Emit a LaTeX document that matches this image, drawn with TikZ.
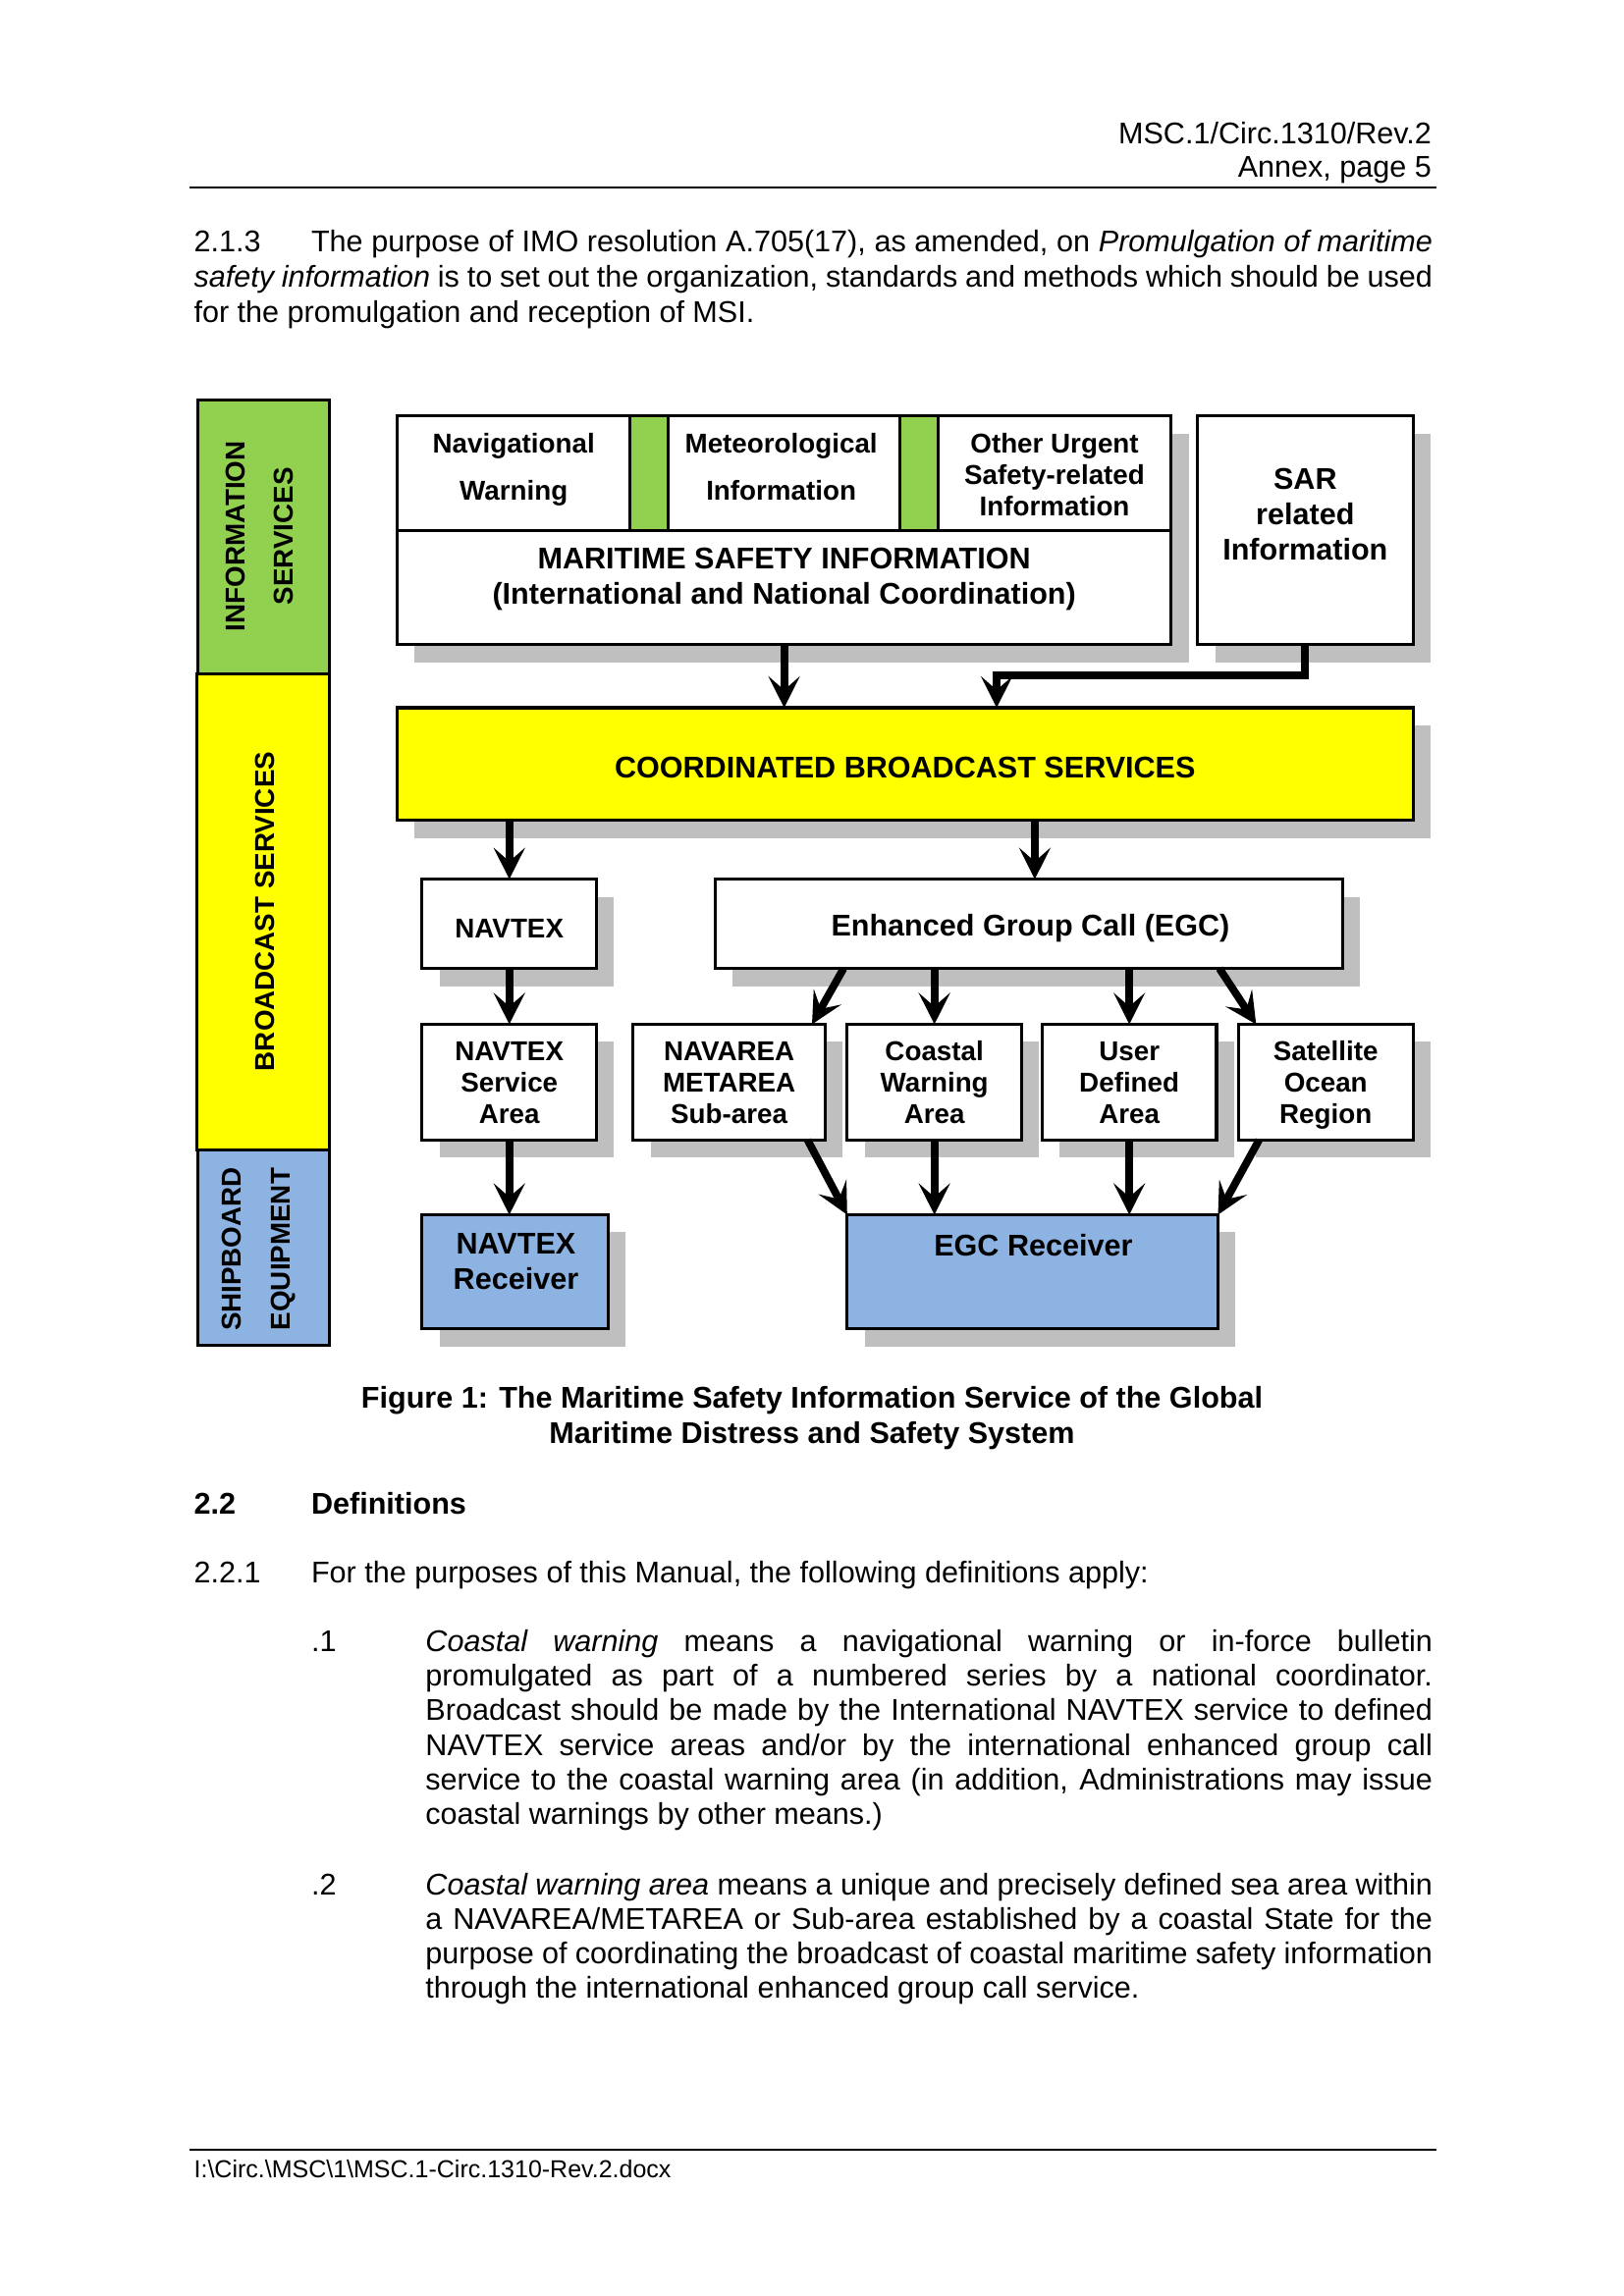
\documentclass[tikz,border=0pt]{standalone}
\usepackage{fontspec}
\setmainfont{Liberation Sans}
\usetikzlibrary{arrows.meta,calc}
\pgfdeclarelayer{background}
\pgfsetlayers{background,main}
\definecolor{igreen}{HTML}{92D050}
\definecolor{iyellow}{HTML}{FFFF00}
\definecolor{iblue}{HTML}{8DB3E2}
\definecolor{ishadow}{HTML}{BFBFBF}
\def\uu{0.53727pt}
\newcommand\felev{\fontsize{11}{13}\selectfont}
\newcommand\felevb{\fontsize{11}{13}\selectfont\bfseries}
\newcommand\ftenb{\fontsize{10}{12}\selectfont\bfseries}
\newcommand\ftenbL{\fontsize{10}{17.7}\selectfont\bfseries}
\newcommand\fnine{\fontsize{9}{11}\selectfont}
\tikzset{
  bx/.style={draw=black, line width=1.1pt, fill=white, inner sep=0pt, outer sep=0pt, anchor=north west},
  flow/.style={line width=2.8pt, -{Stealth[length=11.5pt,width=11.5pt,inset=5pt]}},
  lbl/.style={anchor=base, inner sep=0pt},
  lw/.style={anchor=base west, inner sep=0pt, font=\felev},
  rulel/.style={line width=0.7pt},
  bartxt/.style={rotate=90, align=center, inner sep=0pt, font=\ftenbL},
}
\newcommand\mybox[6]{%
  \node[bx,#1,minimum width={(#5-#3)*\uu},minimum height={(#6-#4)*\uu}] (#2) at (#3,#4) {};
  \begin{pgfonlayer}{background}
  \fill[ishadow] ($(#2.north west)+(12,12)$) rectangle ($(#2.south east)+(12,12)$);
  \end{pgfonlayer}}
\newcommand\lines[6]{\foreach \l [count=\i] in {#6}{\node[lbl,font=#5] (#1-\i) at (#2,{#3+(\i-1)*#4}) {\l};}}
\begin{document}
\begin{tikzpicture}[x=\uu,y=-\uu]
\begin{pgfonlayer}{background}
\fill[white] (0,0) rectangle (1108,1566.9);
\end{pgfonlayer}
\useasboundingbox (0,0) rectangle (1108,1566.9);

% ---------- header ----------
\node[anchor=base east, inner sep=0pt, font=\felev] (h1) at (977,98) {MSC.1/Circ.1310/Rev.2};
\node[anchor=base east, inner sep=0pt, font=\felev] (h2) at (977,121) {Annex, page 5};
\coordinate (hrl) at (129,128); \coordinate (hrr) at (980,128);
\draw[rulel] (hrl) -- (hrr);

% ---------- paragraph 2.1.3 ----------
\node[lw] (pa0) at (132,172) {2.1.3};
\node[lw] (pa1) at (212,172) {\makebox[411pt][s]{The purpose of IMO resolution A.705(17), as amended, on \textit{Promulgation of maritime}}};
\node[lw] (pa2) at (132,196) {\makebox[454pt][s]{\textit{safety information} is to set out the organization, standards and methods which should be used}};
\node[lw] (pa3) at (132,220) {for the promulgation and reception of MSI.};

% ---------- left bars ----------
\node[bx, fill=igreen, minimum width={90*\uu}, minimum height={187*\uu}] (barI) at (135,273) {};
\node[bx, fill=iyellow, minimum width={91*\uu}, minimum height={325*\uu}] (barB) at (134,460) {};
\node[bx, fill=iblue, minimum width={90*\uu}, minimum height={133*\uu}] (barS) at (135,785) {};
\node[bartxt] (tI) at (177,366) {INFORMATION\\SERVICES};
\node[bartxt] (tB) at (181,622) {BROADCAST SERVICES};
\node[bartxt] (tS) at (176.5,852.5) {SHIPBOARD\\EQUIPMENT};

% ---------- top group ----------
\mybox{}{navw}{271}{284}{430}{362}
\mybox{fill=igreen}{grn1}{430}{284}{456}{362}
\mybox{}{met}{456}{284}{614}{362}
\mybox{fill=igreen}{grn2}{614}{284}{640}{362}
\mybox{}{oth}{640}{284}{799}{362}
\mybox{}{msi}{271}{362}{799}{440}
\mybox{}{sar}{817}{284}{964}{440}
\lines{tnav}{350.5}{309}{32}{\ftenb}{Navigational,Warning}
\lines{tmet}{533}{309}{32}{\ftenb}{Meteorological,Information}
\lines{toth}{719.5}{309}{21.5}{\ftenb}{Other Urgent,Safety-related,Information}
\lines{tmsi}{535}{388}{24}{\felevb}{MARITIME SAFETY INFORMATION,{(International and National Coordination)}}
\lines{tsar}{890.5}{334}{24}{\felevb}{SAR,related,Information}

% ---------- broadcast ----------
\mybox{fill=iyellow}{cbs}{271}{483}{964}{560}
\lines{tcbs}{617.5}{531}{24}{\felevb}{COORDINATED BROADCAST SERVICES}
\mybox{}{navtex}{288}{600}{407}{661}
\mybox{}{egc}{488}{600}{916}{661}
\lines{tnavtex}{347.5}{640}{24}{\ftenb}{NAVTEX}
\lines{tegc}{703}{639}{24}{\felevb}{{Enhanced Group Call (EGC)}}

\mybox{}{nsa}{288}{699}{407}{778}
\mybox{}{nava}{432}{699}{563}{778}
\mybox{}{coast}{578}{699}{697}{778}
\mybox{}{user}{711}{699}{830}{778}
\mybox{}{sat}{845}{699}{964}{778}
\lines{tnsa}{347.5}{724}{21.3}{\ftenb}{NAVTEX,Service,Area}
\lines{tnava}{497.5}{724}{21.3}{\ftenb}{NAVAREA,METAREA,Sub-area}
\lines{tcoast}{637.5}{724}{21.3}{\ftenb}{Coastal,Warning,Area}
\lines{tuser}{770.5}{724}{21.3}{\ftenb}{User,Defined,Area}
\lines{tsat}{904.5}{724}{21.3}{\ftenb}{Satellite,Ocean,Region}

% ---------- receivers ----------
\mybox{fill=iblue}{nrec}{288}{829}{415}{907}
\mybox{fill=iblue}{egcr}{578}{829}{831}{907}
\lines{tnrec}{352}{856}{24}{\felevb}{NAVTEX,Receiver}
\lines{tegcr}{705}{857}{24}{\felevb}{EGC Receiver}

% ---------- connectors ----------
\draw[flow] (msi.south) -- (msi.south |- cbs.north);
\coordinate (cbsin) at ($(cbs.north west)+(409,0)$);
\draw[flow] (sar.south) |- ($(cbsin)+(0,-22)$) -- (cbsin);
\draw[flow] (cbs.south -| navtex.north) -- (navtex.north);
\coordinate (egcin) at ($(egc.north)+(4,0)$);
\draw[flow] (cbs.south -| egcin) -- (egcin);
\draw[flow] (navtex.south) -- (navtex.south |- nsa.north);
\coordinate (e1) at ($(egc.south west)+(87.5,0)$);
\coordinate (n1) at ($(nava.north east)+(-9,0)$);
\draw[flow] (e1) -- (n1);
\draw[flow] (egc.south -| coast.north) -- (coast.north);
\draw[flow] (egc.south -| user.north) -- (user.north);
\coordinate (e4) at ($(egc.south east)+(-84,0)$);
\coordinate (s1) at ($(sat.north west)+(12,0)$);
\draw[flow] (e4) -- (s1);
\draw[flow] (nsa.south) -- (nsa.south |- nrec.north);
\coordinate (n2) at ($(nava.south east)+(-12,0)$);
\draw[flow] (n2) -- (egcr.north west);
\draw[flow] (coast.south) -- (coast.south |- egcr.north);
\draw[flow] (user.south) -- (user.south |- egcr.north);
\coordinate (s2) at ($(sat.south west)+(14,0)$);
\draw[flow] (s2) -- (egcr.north east);

% ---------- caption ----------
\node[lbl, font=\felevb] (cap1) at (554,961) {Figure 1: The Maritime Safety Information Service of the Global};
\node[lbl, font=\felevb] (cap2) at (554,985) {Maritime Distress and Safety System};

% ---------- definitions ----------
\node[lw, font=\felevb] (d0n) at (132,1033) {2.2};
\node[lw, font=\felevb] (d0t) at (212,1033) {Definitions};
\node[lw] (d1n) at (132,1080) {2.2.1};
\node[lw] (d1t) at (212,1080) {For the purposes of this Manual, the following definitions apply:};

\node[lw] (q1n) at (212,1127) {.1};
\node[lw] (q1a) at (290,1127) {\makebox[369.1pt][s]{\textit{Coastal warning} means a navigational warning or in-force bulletin}};
\node[lw] (q1b) at (290,1150.6) {\makebox[369.1pt][s]{promulgated as part of a numbered series by a national coordinator.}};
\node[lw] (q1c) at (290,1174.2) {\makebox[369.1pt][s]{Broadcast should be made by the International NAVTEX service to defined}};
\node[lw] (q1d) at (290,1197.8) {\makebox[369.1pt][s]{NAVTEX service areas and/or by the international enhanced group call}};
\node[lw] (q1e) at (290,1221.4) {\makebox[369.1pt][s]{service to the coastal warning area (in addition, Administrations may issue}};
\node[lw] (q1f) at (290,1245) {coastal warnings by other means.)};

\node[lw] (q2n) at (212,1293) {.2};
\node[lw] (q2a) at (290,1293) {\makebox[369.1pt][s]{\textit{Coastal warning area} means a unique and precisely defined sea area within}};
\node[lw] (q2b) at (290,1316.6) {\makebox[369.1pt][s]{a NAVAREA/METAREA or Sub-area established by a coastal State for the}};
\node[lw] (q2c) at (290,1340.2) {\makebox[369.1pt][s]{purpose of coordinating the broadcast of coastal maritime safety information}};
\node[lw] (q2d) at (290,1363.8) {through the international enhanced group call service.};

% ---------- footer ----------
\coordinate (frl) at (129,1467); \coordinate (frr) at (980,1467);
\draw[rulel] (frl) -- (frr);
\node[lw, font=\fnine] (foot) at (132,1486) {I:\textbackslash Circ.\textbackslash MSC\textbackslash 1\textbackslash MSC.1-Circ.1310-Rev.2.docx};
\end{tikzpicture}
\end{document}
